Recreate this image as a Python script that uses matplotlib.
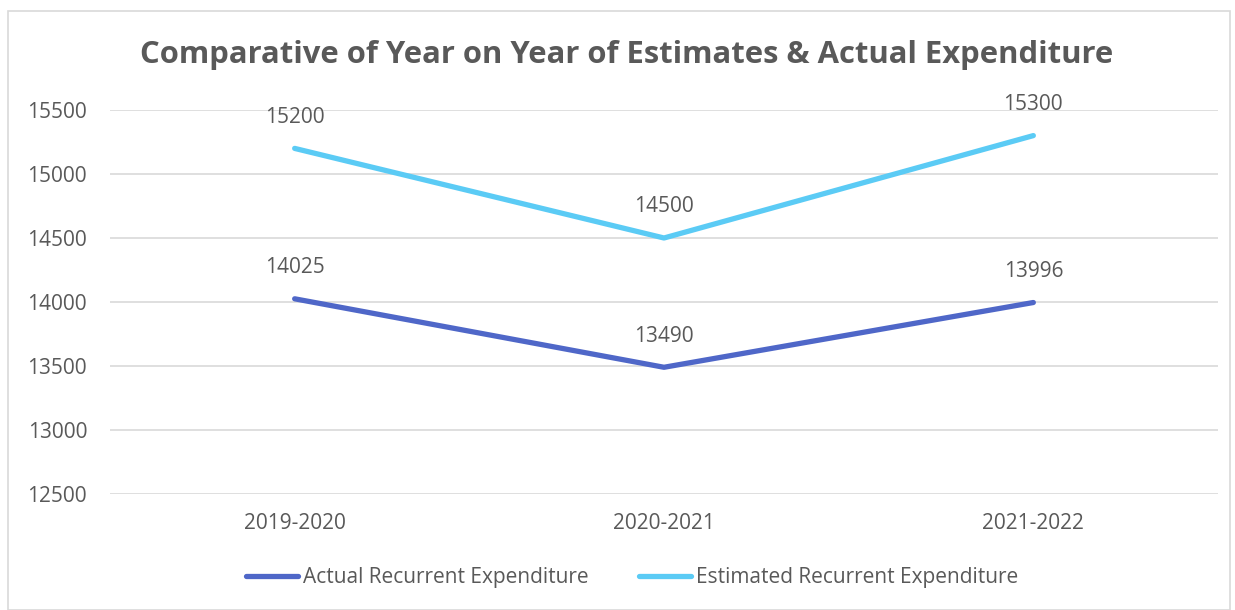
import matplotlib
matplotlib.use("Agg")
import matplotlib.pyplot as plt
from matplotlib.patches import Rectangle

categories = ["2019-2020", "2020-2021", "2021-2022"]
actual = [14025, 13490, 13996]
estimated = [15200, 14500, 15300]
series_names = ["Actual Recurrent Expenditure", "Estimated Recurrent Expenditure"]
yticks = [12500, 13000, 13500, 14000, 14500, 15000, 15500]

plt.rcParams['font.family'] = ['Open Sans', 'DejaVu Sans']
txt = '#595959'
c_act = '#4F67C8'
c_est = '#5BCBF5'

fig = plt.figure(figsize=(12.35, 6.10), dpi=100)
fig.patches.append(Rectangle((8/1235, 0), 1222/1235, 1 - 11/610, transform=fig.transFigure,
                             fill=False, edgecolor='#D9D9D9', linewidth=1.2))
ax = fig.add_axes([110/1235, 1 - 494/610, 1108/1235, 384/610])
x = list(range(len(categories)))
ax.plot(x, actual, color=c_act, lw=3.8, solid_capstyle='round', label=series_names[0])
ax.plot(x, estimated, color=c_est, lw=3.8, solid_capstyle='round', label=series_names[1])
for xi, v in zip(x, actual):
    ax.annotate(str(v), (xi, v), xytext=(0, 22.5), textcoords='offset points',
                ha='center', va='center', fontsize=15, color=txt)
for xi, v in zip(x, estimated):
    ax.annotate(str(v), (xi, v), xytext=(0, 22.5), textcoords='offset points',
                ha='center', va='center', fontsize=15, color=txt)

ax.set_xlim(-0.5, 2.5)
ax.set_ylim(12500, 15500)
ax.set_yticks(yticks)
ax.set_yticklabels([str(t) for t in yticks])
ax.set_xticks(x)
ax.set_xticklabels(categories)
ax.tick_params(axis='both', length=0, labelsize=15, colors=txt)
ax.tick_params(axis='y', pad=16.5)
ax.tick_params(axis='x', pad=14)
ax.grid(axis='y', color='#D9D9D9', lw=1.2)
ax.set_axisbelow(True)
for s in ax.spines.values():
    s.set_visible(False)

fig.text(627/1235, 1 - 55/610, "Comparative of Year on Year of Estimates & Actual Expenditure",
         ha='center', va='center', fontsize=22.3, fontweight='bold', color=txt)

leg = fig.legend(loc='center', bbox_to_anchor=(632/1235, 1 - 578/610), ncol=2, frameon=False,
                 fontsize=15, labelcolor=txt, handlelength=2.5, handletextpad=0.25,
                 columnspacing=2.4)
fig.savefig("out.png", dpi=100)
